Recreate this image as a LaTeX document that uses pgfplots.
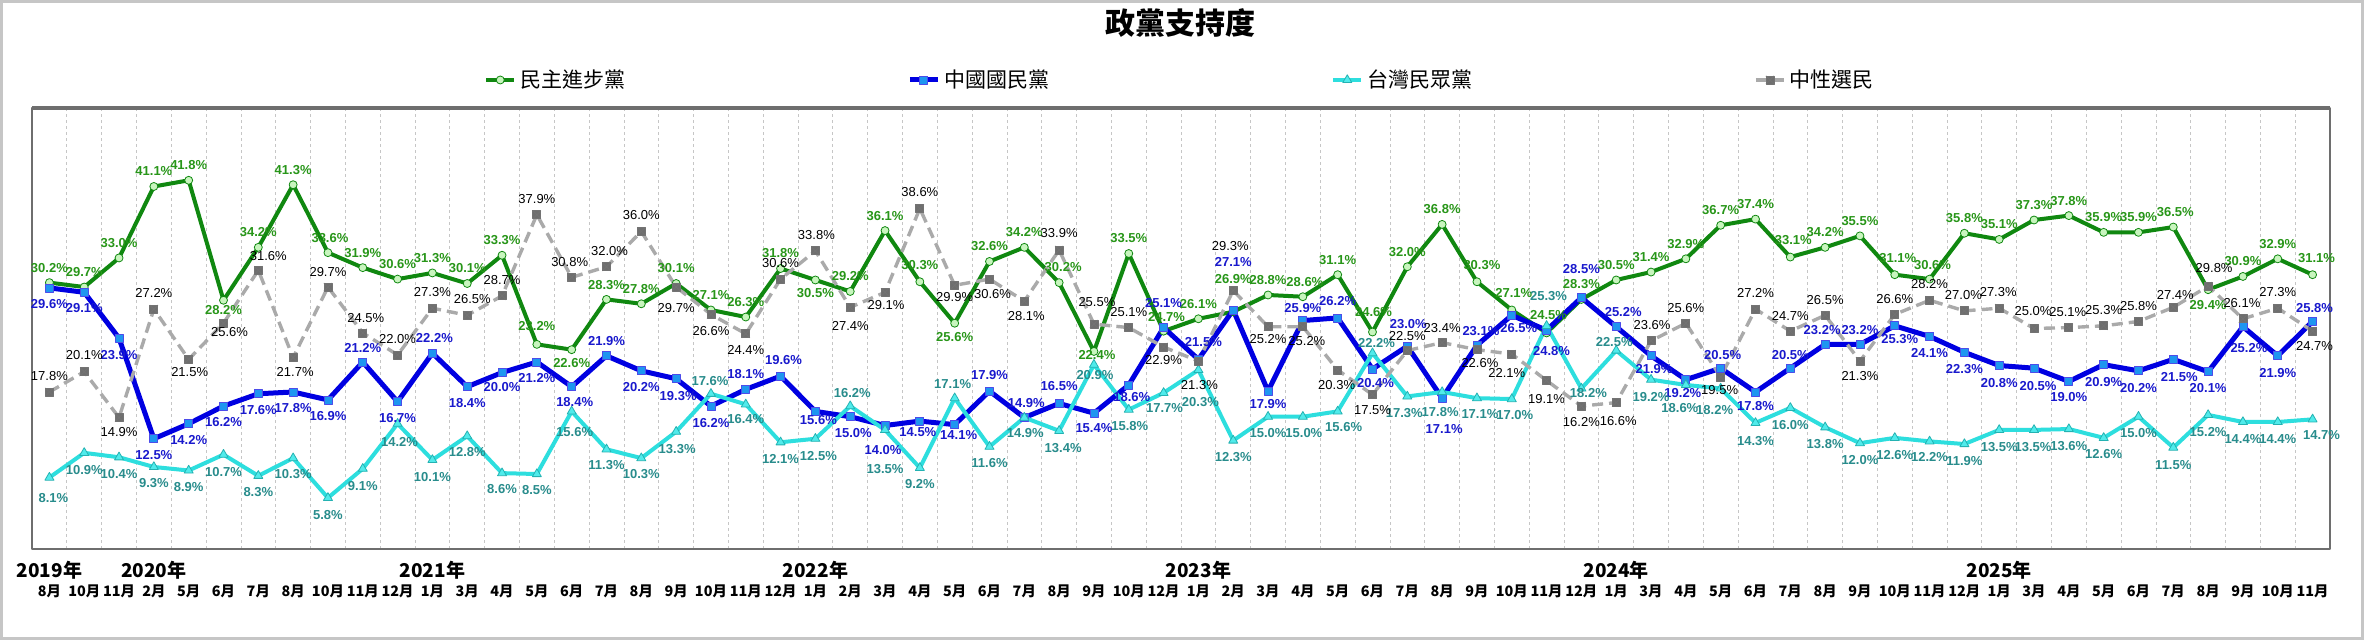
\documentclass[border=0pt]{standalone}
\usepackage{pgfplots}
\pgfplotsset{compat=1.18}
\usepackage{pgfplotstable}
\usepackage{fontspec}
\setmainfont{Liberation Sans}
\newfontfamily\cjk{Noto Sans CJK TC}

\definecolor{dppline}{RGB}{16,136,16}
\definecolor{dppfill}{RGB}{200,245,190}
\definecolor{dpptext}{RGB}{40,150,25}
\definecolor{kmtline}{RGB}{0,0,225}
\definecolor{kmtfill}{RGB}{30,150,240}
\definecolor{kmttext}{RGB}{25,25,205}
\definecolor{tppline}{RGB}{45,222,222}
\definecolor{tppfill}{RGB}{80,235,235}
\definecolor{tpptext}{RGB}{40,140,140}
\definecolor{neuline}{RGB}{170,170,170}
\definecolor{neufill}{RGB}{110,110,110}
\definecolor{frame}{RGB}{110,110,110}

% square with a cross, for the neutral series
\pgfdeclareplotmark{sqx}{%
  \pgfpathrectangle{\pgfqpoint{-\pgfplotmarksize}{-\pgfplotmarksize}}{\pgfqpoint{2\pgfplotmarksize}{2\pgfplotmarksize}}%
  \pgfusepathqfillstroke
  \pgfpathmoveto{\pgfqpoint{-\pgfplotmarksize}{-\pgfplotmarksize}}%
  \pgfpathlineto{\pgfqpoint{\pgfplotmarksize}{\pgfplotmarksize}}%
  \pgfpathmoveto{\pgfqpoint{-\pgfplotmarksize}{\pgfplotmarksize}}%
  \pgfpathlineto{\pgfqpoint{\pgfplotmarksize}{-\pgfplotmarksize}}%
  \pgfusepathqstroke}

% y = value, dx/dy = label offset in px
\pgfplotstableread[row sep=\\]{
y dx dy\\
30.2 0 15\\ 29.7 0 15\\ 33.0 0 15\\ 41.1 0 15\\ 41.8 0 15\\ 28.2 0 -10\\ 34.2 0 15\\ 41.3 0 15\\ 33.6 2 15\\ 31.9 0 15\\ 30.6 0 15\\
31.3 0 15\\ 30.1 0 15\\ 33.3 0 15\\ 23.2 0 18\\ 22.6 0 -13\\ 28.3 0 14\\ 27.8 0 15\\ 30.1 0 15\\ 27.1 0 15\\ 26.3 0 15\\ 31.8 0 15\\
30.5 0 -13\\ 29.2 0 15\\ 36.1 0 15\\ 30.3 0 17\\ 25.6 0 -14\\ 32.6 0 15\\ 34.2 0 15\\ 30.2 4 16\\ 22.4 3 -4\\ 33.5 0 15\\ 24.7 3 14\\
26.1 0 15\\ 26.9 0 33\\ 28.8 0 15\\ 28.6 2 15\\ 31.1 0 15\\ 24.6 1 20\\ 32.0 0 15\\ 36.8 0 15\\ 30.3 5 17\\ 27.1 2 17\\ 24.5 2 18\\ 28.3 0 15\\
30.5 0 15\\ 31.4 0 15\\ 32.9 0 15\\ 36.7 0 15\\ 37.4 0 15\\ 33.1 3 17\\ 34.2 0 15\\ 35.5 0 15\\ 31.1 3 17\\ 30.6 3 14\\ 35.8 0 15\\
35.1 0 15\\ 37.3 0 15\\ 37.8 0 15\\ 35.9 0 15\\ 35.9 0 15\\ 36.5 2 15\\ 29.4 0 -15\\ 30.9 0 15\\ 32.9 0 15\\ 31.1 4 17\\
}\dpp

\pgfplotstableread[row sep=\\]{
y dx dy\\
29.6 0 -16\\ 29.1 0 -16\\ 23.9 0 -17\\ 12.5 0 -16\\ 14.2 0 -16\\ 16.2 0 -16\\ 17.6 0 -16\\ 17.8 0 -16\\ 16.9 0 -16\\ 21.2 0 14\\ 16.7 0 -16\\
22.2 2 15\\ 18.4 0 -16\\ 20.0 0 -14\\ 21.2 0 -16\\ 18.4 3 -15\\ 21.9 0 15\\ 20.2 0 -16\\ 19.3 2 -17\\ 16.2 0 -17\\ 18.1 0 15\\ 19.6 3 16\\
15.6 3 -9\\ 15.0 3 -16\\ 14.0 -2 -25\\ 14.5 -2 -11\\ 14.1 4 -10\\ 17.9 0 16\\ 14.9 2 15\\ 16.5 0 17\\ 15.4 0 -15\\ 18.6 3 -12\\ 25.1 0 25\\
21.5 5 17\\ 27.1 0 48\\ 17.9 0 -13\\ 25.9 0 13\\ 26.2 0 17\\ 20.4 3 -14\\ 23.0 1 22\\ 17.1 2 -31\\ 23.1 4 14\\ 26.5 7 -13\\ 24.8 5 -21\\ 28.5 0 29\\
25.2 7 15\\ 21.9 3 -13\\ 19.2 -3 -13\\ 20.5 2 13\\ 17.8 0 -14\\ 20.5 0 13\\ 23.2 -3 14\\ 23.2 0 14\\ 25.3 5 -13\\ 24.1 0 -17\\ 22.3 0 -17\\
20.8 0 -17\\ 20.5 4 -18\\ 19.0 0 -16\\ 20.9 0 -17\\ 20.2 0 -17\\ 21.5 6 -18\\ 20.1 0 -16\\ 25.2 6 -21\\ 21.9 0 -17\\ 25.8 2 13\\
}\kmt

\pgfplotstableread[row sep=\\]{
y dx dy\\
8.1 4 -20\\ 10.9 0 -17\\ 10.4 0 -17\\ 9.3 0 -16\\ 8.9 0 -17\\ 10.7 0 -17\\ 8.3 0 -16\\ 10.3 0 -16\\ 5.8 0 -17\\ 9.1 0 -17\\ 14.2 2 -18\\
10.1 0 -17\\ 12.8 0 -16\\ 8.6 0 -16\\ 8.5 0 -16\\ 15.6 3 -21\\ 11.3 0 -16\\ 10.3 0 -16\\ 13.3 1 -17\\ 17.6 -1 13\\ 16.4 0 -15\\ 12.1 0 -17\\
12.5 3 -17\\ 16.2 2 13\\ 13.5 0 -39\\ 9.2 0 -16\\ 17.1 -2 14\\ 11.6 0 -16\\ 14.9 1 -15\\ 13.4 4 -17\\ 20.9 1 -10\\ 15.8 1 -16\\ 17.7 1 -15\\
20.3 2 -32\\ 12.3 0 -17\\ 15.0 0 -16\\ 15.0 1 -16\\ 15.6 6 -16\\ 22.2 4 10\\ 17.3 -3 -17\\ 17.8 -2 -20\\ 17.1 3 -16\\ 17.0 3 -16\\ 25.3 2 30\\ 18.2 7 -5\\
22.5 -2 9\\ 19.2 0 -17\\ 18.6 -6 -23\\ 18.2 -6 -22\\ 14.3 0 -18\\ 16.0 0 -17\\ 13.8 0 -17\\ 12.0 0 -17\\ 12.6 0 -17\\ 12.2 0 -16\\ 11.9 0 -17\\
13.5 0 -17\\ 13.5 -1 -17\\ 13.6 0 -17\\ 12.6 0 -16\\ 15.0 0 -16\\ 11.5 0 -17\\ 15.2 0 -17\\ 14.4 0 -17\\ 14.4 0 -17\\ 14.7 9 -16\\
}\tpp

\pgfplotstableread[row sep=\\]{
y dx dy\\
17.8 0 16\\ 20.1 0 17\\ 14.9 0 -14\\ 27.2 0 16\\ 21.5 1 -13\\ 25.6 6 -9\\ 31.6 10 14\\ 21.7 2 -14\\ 29.7 0 15\\ 24.5 3 15\\ 22.0 0 16\\
27.3 0 16\\ 26.5 5 16\\ 28.7 0 16\\ 37.9 0 16\\ 30.8 -2 15\\ 32.0 3 16\\ 36.0 0 16\\ 29.7 0 -21\\ 26.6 0 -17\\ 24.4 0 -16\\ 30.6 0 16\\
33.8 1 16\\ 27.4 0 -19\\ 29.1 1 -13\\ 38.6 0 17\\ 29.9 0 -12\\ 30.6 3 -15\\ 28.1 2 -15\\ 33.9 0 17\\ 25.5 3 22\\ 25.1 0 16\\ 22.9 0 -13\\
21.3 1 -24\\ 29.3 -3 45\\ 25.2 0 -12\\ 25.2 4 -14\\ 20.3 -1 -15\\ 17.5 0 -15\\ 22.5 0 15\\ 23.4 0 15\\ 22.6 3 -13\\ 22.1 -5 -19\\ 19.1 0 -18\\ 16.2 0 -16\\
16.6 2 -18\\ 23.6 1 16\\ 25.6 0 15\\ 19.5 -1 -13\\ 27.2 0 16\\ 24.7 0 15\\ 26.5 0 15\\ 21.3 0 -15\\ 26.6 0 15\\ 28.2 0 16\\ 27.0 -1 16\\
27.3 -1 16\\ 25.0 -1 17\\ 25.1 -1 16\\ 25.3 0 16\\ 25.8 0 15\\ 27.4 2 12\\ 29.8 6 18\\ 26.1 -1 16\\ 27.3 0 16\\ 24.7 2 -15\\
}\neu

\pgfplotsset{
  /pgf/number format/assume math mode=true,
  lbl/.style={draw=none, no markers, point meta=explicit,
    nodes near coords={\pgfmathprintnumber[fixed,fixed zerofill,precision=1]{\pgfplotspointmeta}\%},
    every node near coord/.append style={anchor=center, inner sep=0pt}},
}

\begin{document}
\begin{tikzpicture}
\path[use as bounding box, fill=white] (0,0) rectangle (1182pt,320pt);
\draw[gray!45, line width=1.2pt] (0.8pt,0.8pt) rectangle (1181.2pt,319.2pt);
\begin{axis}[
  at={(16pt,45.5pt)}, anchor=south west,
  scale only axis, width=1149pt, height=220.5pt,
  xmin=-0.5, xmax=65.5, ymin=0, ymax=50,
  axis line style={frame, line width=0.9pt},
  ytick=\empty,
  xtick={0,...,65},
  xticklabels={8月,10月,11月,2月,5月,6月,7月,8月,10月,11月,12月,1月,3月,4月,5月,6月,7月,8月,9月,10月,11月,12月,1月,2月,3月,4月,5月,6月,7月,8月,9月,10月,12月,1月,2月,3月,4月,5月,6月,7月,8月,9月,10月,11月,12月,1月,3月,4月,5月,6月,7月,8月,9月,10月,11月,12月,1月,3月,4月,5月,6月,7月,8月,9月,10月,11月},
  major tick length=0pt,
  xticklabel style={font=\cjk\bfseries\fontsize{7.2}{8}\selectfont, anchor=center, yshift=-21pt},
  minor xtick={0.5,1.5,...,64.5},
  minor tick length=0pt,
  xminorgrids,
  minor grid style={gray!45, dash pattern=on 1.5pt off 1.5pt, line width=0.4pt},
  clip=false,
  title={政黨支持度},
  title style={at={(0.5,1)}, anchor=center, yshift=36.5pt, font=\cjk\bfseries\fontsize{15}{18}\selectfont},
  legend columns=4,
  legend style={at={(0.5,1.0635)}, anchor=center, draw=none, fill=none,
    font=\cjk\fontsize{10.5}{12}\selectfont,
    /tikz/every even column/.append style={column sep=139pt}},
  legend image code/.code={\draw[mark repeat=2,mark phase=2,#1] plot coordinates {(0pt,0pt) (7pt,0pt) (14pt,0pt)};},
  line join=round,
]
\draw[frame, line width=1.6pt] (rel axis cs:0,1) -- (rel axis cs:1,1);

\addplot[dppline, line width=2pt, mark=*, mark size=2pt,
  mark options={fill=dppfill, draw=dppline, line width=0.4pt}]
  table[x expr=\coordindex, y=y] {\dpp};
\addlegendentry{民主進步黨}
\addplot[kmtline, line width=2.5pt, mark=square*, mark size=2pt,
  mark options={fill=kmtfill, draw=kmtline!70, line width=0.4pt}]
  table[x expr=\coordindex, y=y] {\kmt};
\addlegendentry{中國國民黨}
\addplot[tppline, line width=2pt, mark=triangle*, mark size=2.6pt,
  mark options={fill=tppfill, draw=tppline!80!black, line width=0.4pt}]
  table[x expr=\coordindex, y=y] {\tpp};
\addlegendentry{台灣民眾黨}
\addplot[neuline, line width=1.7pt, dash pattern=on 5.5pt off 3pt, mark=sqx, mark size=2pt,
  mark options={solid, fill=neufill, draw=black!55, line width=0.4pt}]
  table[x expr=\coordindex, y=y] {\neu};
\addlegendentry{中性選民}

% labels: placed at value + offset (px -> data units), showing the value
\addplot[lbl, forget plot, every node near coord/.append style={text=dpptext, font=\bfseries\fontsize{6.5}{7}\selectfont}]
  table[x expr=\coordindex+\thisrow{dx}/34.82, y expr=\thisrow{y}+\thisrow{dy}*0.11338, meta=y] {\dpp};
\addplot[lbl, forget plot, every node near coord/.append style={text=kmttext, font=\bfseries\fontsize{6.5}{7}\selectfont}]
  table[x expr=\coordindex+\thisrow{dx}/34.82, y expr=\thisrow{y}+\thisrow{dy}*0.11338, meta=y] {\kmt};
\addplot[lbl, forget plot, every node near coord/.append style={text=tpptext, font=\bfseries\fontsize{6.5}{7}\selectfont}]
  table[x expr=\coordindex+\thisrow{dx}/34.82, y expr=\thisrow{y}+\thisrow{dy}*0.11338, meta=y] {\tpp};
\addplot[lbl, forget plot, every node near coord/.append style={text=black, font=\fontsize{6.5}{7}\selectfont}]
  table[x expr=\coordindex+\thisrow{dx}/34.82, y expr=\thisrow{y}+\thisrow{dy}*0.11338, meta=y] {\neu};

\node[font=\cjk\bfseries\fontsize{9.5}{11}\selectfont, yshift=-10.5pt] at (axis cs:0,0) {2019年};
\node[font=\cjk\bfseries\fontsize{9.5}{11}\selectfont, yshift=-10.5pt] at (axis cs:3,0) {2020年};
\node[font=\cjk\bfseries\fontsize{9.5}{11}\selectfont, yshift=-10.5pt] at (axis cs:11,0) {2021年};
\node[font=\cjk\bfseries\fontsize{9.5}{11}\selectfont, yshift=-10.5pt] at (axis cs:22,0) {2022年};
\node[font=\cjk\bfseries\fontsize{9.5}{11}\selectfont, yshift=-10.5pt] at (axis cs:33,0) {2023年};
\node[font=\cjk\bfseries\fontsize{9.5}{11}\selectfont, yshift=-10.5pt] at (axis cs:45,0) {2024年};
\node[font=\cjk\bfseries\fontsize{9.5}{11}\selectfont, yshift=-10.5pt] at (axis cs:56,0) {2025年};
\end{axis}
\end{tikzpicture}
\end{document}
